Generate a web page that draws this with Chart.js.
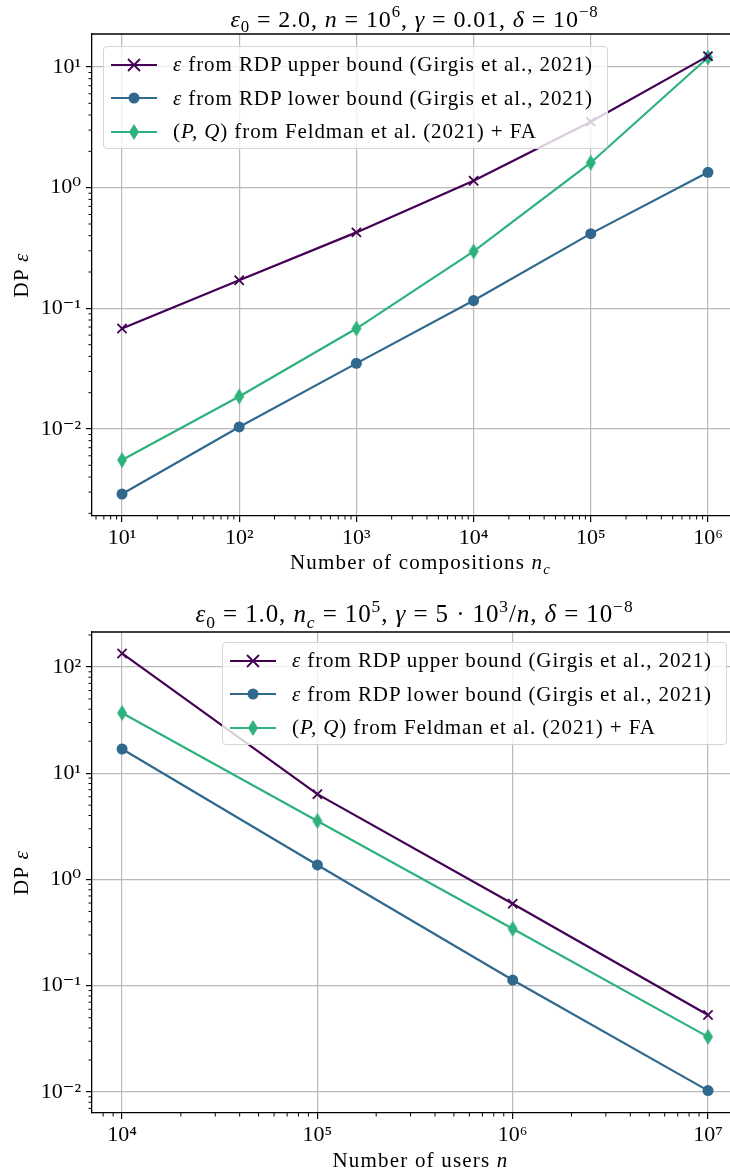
<!DOCTYPE html>
<html>
<head>
<meta charset="utf-8">
<script src="https://cdn.jsdelivr.net/npm/chart.js@4.4.1/dist/chart.umd.min.js"></script>
<style>
  body { margin: 0; background: #fff; }
  .panel { position: relative; width: 730px; height: 588px; }
  .legend {
    position: absolute; box-sizing: border-box; width: 505px; height: 103px;
    background: rgba(255,255,255,0.8); border: 1px solid #d6d6d6; border-radius: 4px;
    font-family: "Liberation Serif", serif; font-size: 21px; letter-spacing: 0.9px; color: #000; padding-top: 1px;
  }
  .row { height: 33.5px; display: flex; align-items: center; white-space: nowrap; }
  .row svg { margin-left: 6px; margin-right: 15px; flex: none; }
</style>
</head>
<body>
<div class="panel">
  <canvas id="top" width="730" height="588"></canvas>
  <div class="legend" id="legTop" style="left:103px;top:46px;"></div>
</div>
<div class="panel">
  <canvas id="bottom" width="730" height="588"></canvas>
  <div class="legend" id="legBottom" style="left:222px;top:54px;"></div>
</div>
<script>
// top panel: eps vs number of compositions
const ncValues = [1e1, 1e2, 1e3, 1e4, 1e5, 1e6];
const upperTop = [0.068, 0.171, 0.426, 1.14, 3.52, 12.3];
const lowerTop = [0.00289, 0.0104, 0.035, 0.116, 0.416, 1.34];
const faTop = [0.00553, 0.0186, 0.068, 0.296, 1.61, 12.0];
const xTicksTop = [1e1, 1e2, 1e3, 1e4, 1e5, 1e6];
const yTicksTop = [1e-2, 1e-1, 1e0, 1e1];

// bottom panel: eps vs number of users
const nValues = [1e4, 1e5, 1e6, 1e7];
const upperBottom = [134, 6.35, 0.59, 0.053];
const lowerBottom = [16.9, 1.37, 0.113, 0.0103];
const faBottom = [36.9, 3.55, 0.343, 0.033];
const xTicksBottom = [1e4, 1e5, 1e6, 1e7];
const yTicksBottom = [1e-2, 1e-1, 1e0, 1e1, 1e2];

const seriesNames = [
  "ε from RDP upper bound (Girgis et al., 2021)",
  "ε from RDP lower bound (Girgis et al., 2021)",
  "(P, Q) from Feldman et al. (2021) + FA"
];
const colors = ["#440154", "#31688e", "#2db27d"];

const serif = '"Liberation Serif", "DejaVu Serif", serif';
const supMap = {"0":"⁰","1":"¹","2":"²","3":"³","4":"⁴","5":"⁵","6":"⁶","7":"⁷","8":"⁸","9":"⁹","-":"⁻"};
function powLabel(v) {
  var e = Math.round(Math.log10(v));
  return "10" + String(e).split("").map(c => supMap[c]).join("");
}

// thin diamond marker like matplotlib 'd'
function thinDiamond(color) {
  var c = document.createElement("canvas");
  c.width = 12; c.height = 17;
  var g = c.getContext("2d");
  g.fillStyle = color;
  g.beginPath();
  g.moveTo(6, 0.5); g.lineTo(11, 8.5); g.lineTo(6, 16.5); g.lineTo(1, 8.5);
  g.closePath(); g.fill();
  return c;
}

// text with italics, sub- and superscripts
function drawRich(ctx, segs, x, y, size, spacing, rotate) {
  ctx.save();
  ctx.translate(x, y);
  if (rotate) ctx.rotate(-Math.PI / 2);
  ctx.textBaseline = "alphabetic";
  ctx.fillStyle = "#000";
  ctx.letterSpacing = spacing + "px";
  var parts = segs.map(function (s) {
    var st = s[1] || "";
    var sz = (st.indexOf("sub") >= 0 || st.indexOf("sup") >= 0) ? size * 0.7 : size;
    var it = st.indexOf("i") === 0 ? "italic " : "";
    var dy = st.indexOf("sub") >= 0 ? size * 0.22 : (st.indexOf("sup") >= 0 ? -size * 0.4 : 0);
    var font = it + sz + "px " + serif;
    ctx.font = font;
    return {t: s[0], font: font, dy: dy, w: ctx.measureText(s[0]).width};
  });
  var total = parts.reduce((a, p) => a + p.w, 0);
  var cx = -total / 2;
  parts.forEach(function (p) {
    ctx.font = p.font;
    ctx.fillText(p.t, cx, p.dy);
    cx += p.w;
  });
  ctx.restore();
}

const framePlugin = {
  id: "frame",
  afterDraw(chart, args, opts) {
    var ctx = chart.ctx, a = chart.chartArea;
    ctx.save();
    ctx.strokeStyle = "#000";
    ctx.lineWidth = 1.3;
    ctx.beginPath();
    ctx.moveTo(a.left, a.top); ctx.lineTo(a.right, a.top);
    ctx.stroke();
    // minor log ticks
    ctx.lineWidth = 1;
    ["x", "y"].forEach(function (id) {
      var s = chart.scales[id];
      var d0 = Math.floor(Math.log10(s.min)), d1 = Math.ceil(Math.log10(s.max));
      for (var d = d0; d <= d1; d++) {
        for (var k = 2; k <= 9; k++) {
          var v = k * Math.pow(10, d);
          if (v < s.min || v > s.max) continue;
          var p = s.getPixelForValue(v);
          ctx.beginPath();
          if (id === "x") { ctx.moveTo(p, a.bottom); ctx.lineTo(p, a.bottom + 3.5); }
          else { ctx.moveTo(a.left, p); ctx.lineTo(a.left - 3.5, p); }
          ctx.stroke();
        }
      }
    });
    ctx.restore();
    var cx = (a.left + a.right + 7) / 2;
    drawRich(ctx, opts.title, cx, opts.titleY, opts.titleSize, 0.9);
    drawRich(ctx, opts.xTitle, cx + 6, opts.xTitleY, 21, 1.2);
    drawRich(ctx, opts.yTitle, opts.yTitleX, (a.top + a.bottom) / 2, 21, 1.1, true);
  }
};

function makeDatasets(up, lo, fa) {
  return [
    {label: seriesNames[0], data: up, borderColor: colors[0], backgroundColor: colors[0],
     pointStyle: "crossRot", pointRadius: 6.5, pointBorderWidth: 1.8},
    {label: seriesNames[1], data: lo, borderColor: colors[1], backgroundColor: colors[1],
     pointStyle: "circle", pointRadius: 5.5, pointBorderWidth: 0},
    {label: seriesNames[2], data: fa, borderColor: colors[2], backgroundColor: colors[2],
     pointStyle: thinDiamond(colors[2])}
  ].map(function (d) {
    d.borderWidth = 2.2; d.tension = 0; d.pointHoverRadius = d.pointRadius;
    return d;
  });
}

function makeChart(id, xs, sets, xTicks, yTicks, xr, yr, lay) {
  return new Chart(document.getElementById(id), {
    type: "line",
    data: {labels: xs, datasets: sets},
    plugins: [framePlugin],
    options: {
      responsive: false, animation: false,
      layout: {autoPadding: false, padding: {top: lay.top, left: 0, right: 0, bottom: 0}},
      plugins: {
        legend: {display: false}, tooltip: {enabled: false},
        frame: {title: lay.title, titleY: lay.titleY, titleSize: lay.titleSize,
                xTitle: lay.xTitle, xTitleY: lay.xTitleY,
                yTitle: [["DP "], ["ε", "i"]], yTitleX: 28}
      },
      scales: {
        x: {
          type: "logarithmic", bounds: "data", min: xr[0], max: xr[1],
          afterFit: function (s) { s.height = lay.xHeight; s.paddingLeft = 0; s.paddingRight = 0; },
          afterBuildTicks: function (s) { s.ticks = xTicks.map(v => ({value: v})); },
          grid: {color: "#b9b9b9", lineWidth: 1.2, tickColor: "#000", tickLength: 6, tickWidth: 1.2},
          border: {color: "#000", width: 1.3},
          ticks: {font: {family: serif, size: 22}, color: "#000", padding: 3, maxRotation: 0, autoSkip: false,
                  callback: v => powLabel(v)}
        },
        y: {
          type: "logarithmic", bounds: "data", min: yr[0], max: yr[1],
          afterFit: function (s) { s.width = 92; s.paddingTop = 0; s.paddingBottom = 0; },
          afterBuildTicks: function (s) { s.ticks = yTicks.map(v => ({value: v})); },
          grid: {color: "#b9b9b9", lineWidth: 1.2, tickColor: "#000", tickLength: 6, tickWidth: 1.2},
          border: {color: "#000", width: 1.3},
          ticks: {font: {family: serif, size: 22}, color: "#000", padding: 5, autoSkip: false,
                  callback: v => powLabel(v)}
        }
      }
    }
  });
}

function toPoints(xs, ys) { return ys.map((y, i) => ({x: xs[i], y: y})); }

makeChart("top", ncValues,
  makeDatasets(toPoints(ncValues, upperTop), toPoints(ncValues, lowerTop), toPoints(ncValues, faTop)),
  xTicksTop, yTicksTop, [Math.pow(10, 0.744), Math.pow(10, 6.188)], [Math.pow(10, -2.721), Math.pow(10, 1.2735)],
  {top: 34, xHeight: 72, titleY: 27, xTitleY: 569, titleSize: 24,
   title: [["ε", "i"], ["0", "sub"], [" = 2.0, "], ["n", "i"], [" = 10"], ["6", "sup"], [", "], ["γ", "i"],
           [" = 0.01, "], ["δ", "i"], [" = 10"], ["−8", "sup"]],
   xTitle: [["Number of compositions "], ["n", "i"], ["c", "isub"]]});

makeChart("bottom", nValues,
  makeDatasets(toPoints(nValues, upperBottom), toPoints(nValues, lowerBottom), toPoints(nValues, faBottom)),
  xTicksBottom, yTicksBottom, [Math.pow(10, 3.846), Math.pow(10, 7.1126)], [Math.pow(10, -2.198), Math.pow(10, 2.329)],
  {top: 44, xHeight: 63, titleY: 34, xTitleY: 579, titleSize: 25,
   title: [["ε", "i"], ["0", "sub"], [" = 1.0, "], ["n", "i"], ["c", "isub"], [" = 10"], ["5", "sup"], [", "],
           ["γ", "i"], [" = 5 · 10"], ["3", "sup"], ["/"], ["n", "i"], [", "], ["δ", "i"], [" = 10"], ["−8", "sup"]],
   xTitle: [["Number of users "], ["n", "i"]]});

// legends: line + marker samples
function sampleSvg(i) {
  var c = colors[i];
  var m;
  if (i === 0) m = '<path d="M18 12 L30 24 M30 12 L18 24" stroke="' + c + '" stroke-width="1.8"/>';
  else if (i === 1) m = '<circle cx="24" cy="18" r="5.5" fill="' + c + '"/>';
  else m = '<path d="M24 10 L29 18 L24 26 L19 18 Z" fill="' + c + '"/>';
  return '<svg width="48" height="36"><line x1="1" y1="18" x2="47" y2="18" stroke="' + c +
         '" stroke-width="2.2"/>' + m + '</svg>';
}
function legendHtml() {
  var texts = [
    "<i>ε</i> from RDP upper bound (Girgis et al., 2021)",
    "<i>ε</i> from RDP lower bound (Girgis et al., 2021)",
    "(<i>P, Q</i>) from Feldman et al. (2021) + FA"
  ];
  return texts.map((t, i) => '<div class="row">' + sampleSvg(i) + '<span>' + t + '</span></div>').join("");
}
document.getElementById("legTop").innerHTML = legendHtml();
document.getElementById("legBottom").innerHTML = legendHtml();
</script>
</body>
</html>
